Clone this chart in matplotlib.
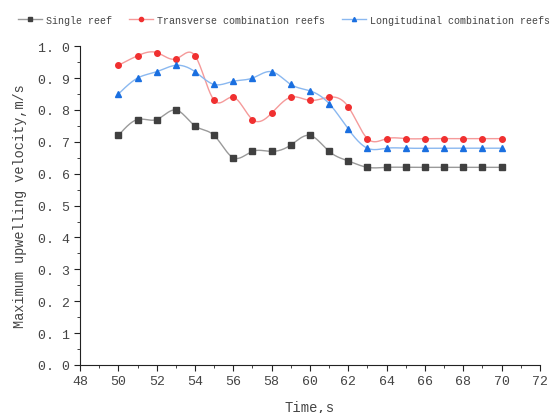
import numpy as np
import matplotlib
matplotlib.use("Agg")
import matplotlib.pyplot as plt
from matplotlib.ticker import MultipleLocator

plt.rcParams['font.family'] = ['Liberation Mono', 'DejaVu Sans Mono']

# time, s
t = [50, 51, 52, 53, 54, 55, 56, 57, 58, 59, 60, 61, 62, 63, 64, 65, 66, 67, 68, 69, 70]
single = [0.72, 0.77, 0.77, 0.80, 0.75, 0.72, 0.65, 0.67, 0.67, 0.69, 0.72,
          0.67, 0.64, 0.62, 0.62, 0.62, 0.62, 0.62, 0.62, 0.62, 0.62]
transverse = [0.94, 0.97, 0.98, 0.96, 0.97, 0.83, 0.84, 0.77, 0.79, 0.84, 0.83,
              0.84, 0.81, 0.71, 0.71, 0.71, 0.71, 0.71, 0.71, 0.71, 0.71]
longitudinal = [0.85, 0.90, 0.92, 0.94, 0.92, 0.88, 0.89, 0.90, 0.92, 0.88, 0.86,
                0.82, 0.74, 0.68, 0.68, 0.68, 0.68, 0.68, 0.68, 0.68, 0.68]


def spline(x, y, n=20):
    # natural cubic spline, just for the smooth connecting line
    x = np.asarray(x, float)
    y = np.asarray(y, float)
    m = len(x)
    h = np.diff(x)
    A = np.zeros((m, m))
    b = np.zeros(m)
    A[0, 0] = A[-1, -1] = 1
    for i in range(1, m - 1):
        A[i, i - 1] = h[i - 1]
        A[i, i] = 2 * (h[i - 1] + h[i])
        A[i, i + 1] = h[i]
        b[i] = 6 * ((y[i + 1] - y[i]) / h[i] - (y[i] - y[i - 1]) / h[i - 1])
    M = np.linalg.solve(A, b)
    xs, ys = [], []
    for i in range(m - 1):
        u = np.linspace(x[i], x[i + 1], n, endpoint=False)
        a = x[i + 1] - u
        c = u - x[i]
        v = (M[i] * a**3 + M[i + 1] * c**3) / (6 * h[i]) \
            + (y[i] / h[i] - M[i] * h[i] / 6) * a \
            + (y[i + 1] / h[i] - M[i + 1] * h[i] / 6) * c
        xs.extend(u)
        ys.extend(v)
    xs.append(x[-1])
    ys.append(y[-1])
    return np.array(xs), np.array(ys)


fig = plt.figure(figsize=(5.6, 4.14), dpi=100)
ax = fig.add_axes([0.143, 0.116, 0.821, 0.770])

series = [
    (single, 'Single reef', '#9a9a9a', '#404040', 's'),
    (transverse, 'Transverse combination reefs', '#f59a9a', '#f03030', 'o'),
    (longitudinal, 'Longitudinal combination reefs', '#8ab8f0', '#1a6fe0', '^'),
]
handles = []
for vals, name, lc, mc, mk in series:
    sx, sy = spline(t, vals)
    ax.plot(sx, sy, color=lc, lw=1.0, zorder=2)
    ax.plot(t, vals, ls='none', marker=mk, ms=4, color=mc, zorder=3)
    h, = ax.plot([], [], color=lc, lw=1.0, marker=mk, ms=3, mfc=mc, mec=mc)
    handles.append(h)

ax.set_xlim(48, 72)
ax.set_ylim(0, 1.0)
ax.xaxis.set_major_locator(MultipleLocator(2))
ax.xaxis.set_minor_locator(MultipleLocator(1))
ax.yaxis.set_major_locator(MultipleLocator(0.1))
ax.yaxis.set_minor_locator(MultipleLocator(0.05))
ax.yaxis.set_major_formatter(plt.FuncFormatter(lambda v, p: f'{v:.1f}'.replace('.', '. ')))
for s in ['top', 'right']:
    ax.spines[s].set_visible(False)
for s in ['left', 'bottom']:
    ax.spines[s].set_color('#222222')
ax.tick_params(which='major', direction='out', length=4, labelsize=9.5,
               labelcolor='#444444', color='#222222')
ax.tick_params(which='minor', direction='out', length=2.5, color='#222222')
ax.set_xlabel('Time,s', fontsize=10, color='#444444', labelpad=9)
ax.set_ylabel('Maximum upwelling velocity,m/s', fontsize=9.8, color='#444444', labelpad=8)

fig.legend(handles=handles, labels=[s[1] for s in series], loc='upper left',
           bbox_to_anchor=(0.025, 0.972), ncol=3, frameon=False, fontsize=7.2,
           handlelength=2.4, columnspacing=1.7, handletextpad=0.4,
           borderaxespad=0, labelcolor='#444444')

fig.savefig('out.png', dpi=100)
